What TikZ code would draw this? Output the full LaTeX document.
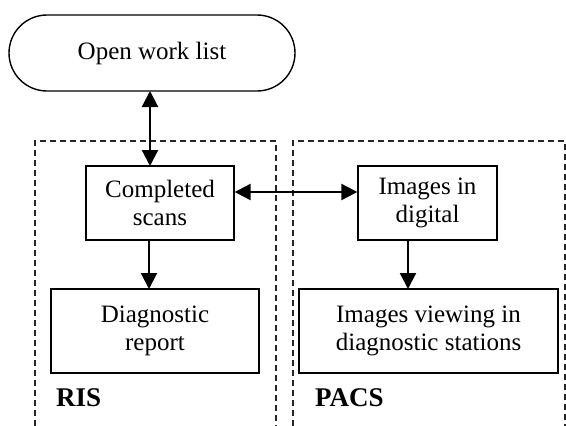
\documentclass[tikz,border=0pt]{standalone}
\usepackage{fontspec}
\setmainfont{Liberation Serif}
\usetikzlibrary{arrows.meta,shapes.misc}
\begin{document}
\begin{tikzpicture}[x=1pt,y=-1pt,
  txt/.style={font=\fontsize{25}{28}\selectfont, align=center, inner sep=0pt},
  boxnode/.style={txt, draw, line width=1.4pt, minimum width=#1, minimum height=74pt},
  termnode/.style={txt, draw, line width=1.4pt, rounded rectangle, minimum width=286pt, minimum height=76pt},
  grp/.style={draw, line width=1.2pt, dash pattern=on 6pt off 4pt, black!85},
  conn/.style={line width=2.2pt, -{Triangle[length=16pt,width=16pt]}},
  bconn/.style={line width=2.2pt, {Triangle[length=16pt,width=16pt]}-{Triangle[length=16pt,width=16pt]}},
  lbl/.style={font=\fontsize{27}{30}\selectfont\bfseries, anchor=west, inner sep=0pt}
]
\useasboundingbox (0,0) rectangle (566,426);
% groups
\draw[grp] (35,426) -- (35,141) -- (276,141) -- (276,426);
\draw[grp] (293,426) -- (293,141) -- (565,141) -- (565,426);
% nodes
\node[termnode] (open) at (152,53) {Open work list};
\node[boxnode=148pt] (cs) at (160,203) {Completed\\scans};
\node[boxnode=139pt] (dig) at (427.5,203) {Images in\\digital};
\node[boxnode=208pt, minimum height=84pt] (rep) at (155,331) {Diagnostic\\report};
\node[boxnode=259pt, minimum height=84pt] (view) at (428.5,331) {Images viewing in\\diagnostic stations};
\node[lbl] (ris) at (56,398) {RIS};
\node[lbl] (pacs) at (315,398) {PACS};
% connectors
\coordinate (a1) at (150,91);
\coordinate (a2) at (150,166);
\draw[bconn] (a1) -- (a2);
\coordinate (h1) at (234,192);
\draw[bconn] (h1 -| cs.east) -- (h1 -| dig.west);
\coordinate (v1) at (149,240);
\coordinate (v2) at (149,289);
\draw[conn] (v1) -- (v2);
\coordinate (w1) at (408,240);
\coordinate (w2) at (408,289);
\draw[conn] (w1) -- (w2);
\end{tikzpicture}
\end{document}
